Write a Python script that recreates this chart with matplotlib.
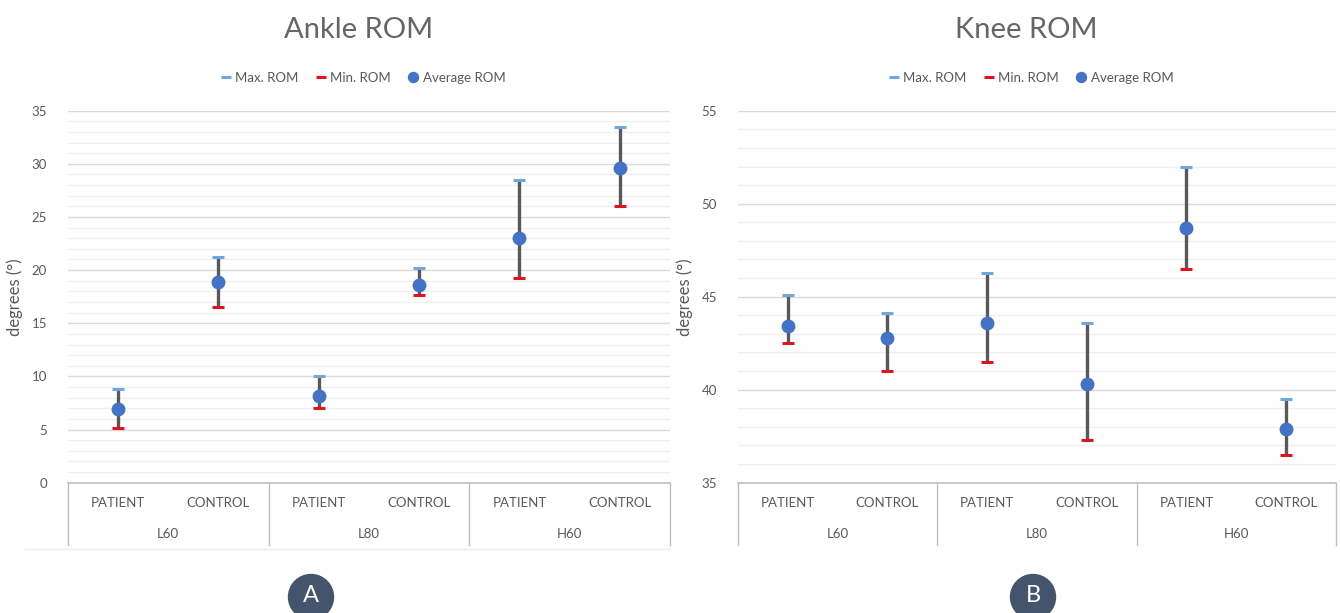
import numpy as np
import matplotlib.pyplot as plt
from matplotlib.patches import Circle
from matplotlib.ticker import MultipleLocator

plt.rcParams['font.family'] = ['Lato', 'DejaVu Sans']

# categories
subjects = ['PATIENT', 'CONTROL', 'PATIENT', 'CONTROL', 'PATIENT', 'CONTROL']
groups = ['L60', 'L80', 'H60']

# ankle range of motion (degrees)
ankle_max = [8.8, 21.2, 10.0, 20.2, 28.5, 33.5]
ankle_avg = [6.9, 18.9, 8.2, 18.6, 23.0, 29.6]
ankle_min = [5.1, 16.5, 7.0, 17.7, 19.3, 26.0]

# knee range of motion (degrees)
knee_max = [45.1, 44.1, 46.3, 43.6, 52.0, 39.5]
knee_avg = [43.4, 42.8, 43.6, 40.3, 48.7, 37.9]
knee_min = [42.5, 41.0, 41.5, 37.3, 46.5, 36.5]

GREY_TXT = '#595959'
BAR = '#595959'
MAXC = '#6fa8dc'
MINC = '#e0141e'
AVGC = '#4472c4'


def rom_panel(ax, title, vmax, vavg, vmin, ylo, yhi):
    x = np.arange(len(subjects))
    ax.vlines(x, vmin, vmax, color=BAR, lw=2.4, zorder=3)
    h_max, = ax.plot(x, vmax, ls='none', marker='_', ms=9, mew=2.2, color=MAXC,
                     zorder=4, label='Max. ROM')
    h_min, = ax.plot(x, vmin, ls='none', marker='_', ms=9, mew=2.2, color=MINC,
                     zorder=4, label='Min. ROM')
    h_avg, = ax.plot(x, vavg, ls='none', marker='o', ms=9, color=AVGC,
                     zorder=5, label='Average ROM')

    ax.set_xlim(-0.5, len(subjects) - 0.5)
    ax.set_ylim(ylo, yhi)
    ax.yaxis.set_major_locator(MultipleLocator(5))
    ax.yaxis.set_minor_locator(MultipleLocator(1))
    ax.grid(which='major', axis='y', color='#d9d9d9', lw=1.0)
    ax.grid(which='minor', axis='y', color='#efefef', lw=0.9)
    ax.set_axisbelow(True)
    for s in ['top', 'right', 'left']:
        ax.spines[s].set_visible(False)
    ax.spines['bottom'].set_color('#bfbfbf')
    ax.spines['bottom'].set_linewidth(1.2)
    ax.set_xticks([])
    ax.tick_params(axis='y', which='both', length=0, labelsize=9.5,
                   labelcolor=GREY_TXT, pad=15)
    ax.set_ylabel('degrees (°)', fontsize=12, color=GREY_TXT, labelpad=6)
    ax.set_title(title, fontsize=21, color='#666666', pad=52, x=0.482)

    # two-level category axis
    tr = ax.get_xaxis_transform()
    for i, s in enumerate(subjects):
        ax.text(i, -0.055, s, transform=tr, ha='center', va='center',
                fontsize=9.5, color=GREY_TXT)
    for g, name in enumerate(groups):
        ax.text(2 * g + 0.5, -0.138, name, transform=tr, ha='center',
                va='center', fontsize=9.5, color=GREY_TXT)
    for b in [-0.5, 1.5, 3.5, 5.5]:
        ax.plot([b, b], [0, -0.168], transform=tr, color='#bfbfbf', lw=1,
                clip_on=False)

    ax.legend(handles=[h_max, h_min, h_avg], loc='lower center',
              bbox_to_anchor=(0.49, 1.04), ncol=3, frameon=False, fontsize=9.5,
              labelcolor=GREY_TXT, handlelength=0.8, handletextpad=0.3,
              columnspacing=1.3, markerscale=0.8)


fig = plt.figure(figsize=(13.4, 6.13), dpi=100)
ax1 = fig.add_axes([0.0507, 0.2126, 0.4493, 0.6068])
ax2 = fig.add_axes([0.5507, 0.2126, 0.4463, 0.6068])

rom_panel(ax1, 'Ankle ROM', ankle_max, ankle_avg, ankle_min, 0, 35)
rom_panel(ax2, 'Knee ROM', knee_max, knee_avg, knee_min, 35, 55)

# faint chart-area border under the left panel
fig.add_artist(plt.Line2D([25 / 1340, 670 / 1340], [64 / 613, 64 / 613],
                          color='#ececec', lw=1))

# panel badges
for cx, letter in [(3.11, 'A'), (10.33, 'B')]:
    fig.add_artist(Circle((cx, 0.16), 0.225, transform=fig.dpi_scale_trans,
                          color='#44546a', zorder=10))
    fig.text(cx / 13.4, 0.17 / 6.13, letter, ha='center', va='center',
             color='white', fontsize=17, zorder=11)

fig.savefig('out.png', dpi=100)
